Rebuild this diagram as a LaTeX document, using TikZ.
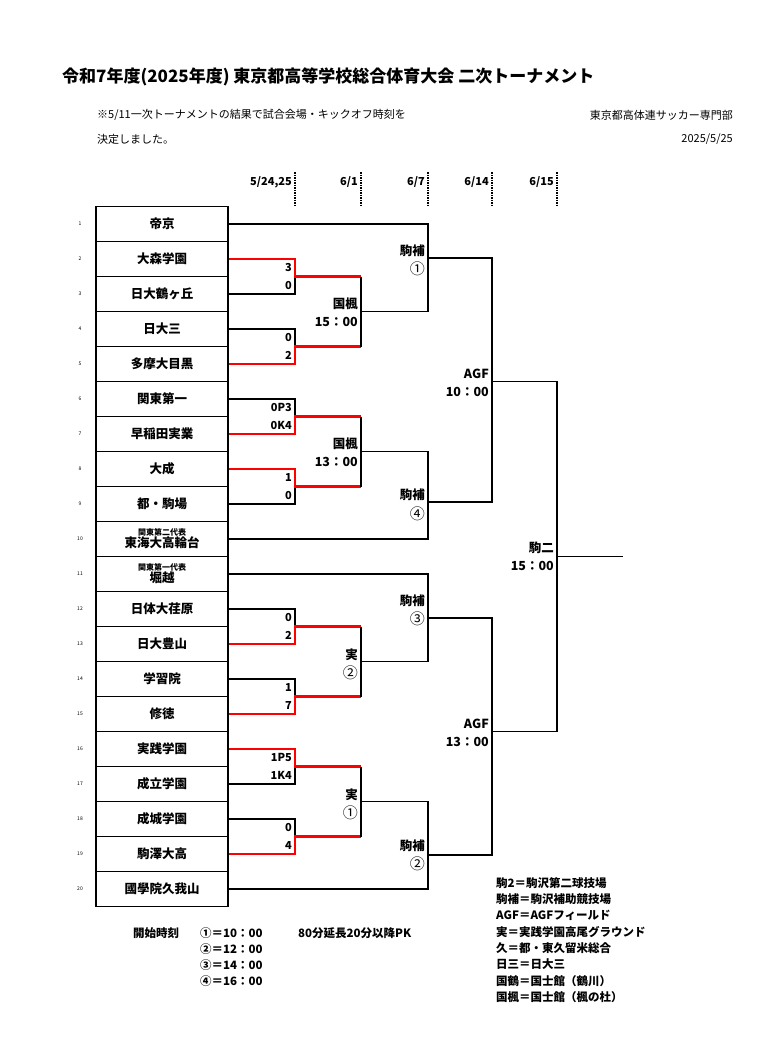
\documentclass[tikz,border=0pt]{standalone}
\usepackage{fontspec}
\setmainfont{Noto Sans CJK JP}
\begin{document}
\begin{tikzpicture}[x=1pt,y=-1pt,font=\bfseries,
  box/.style={draw,line width=1.4pt,minimum width=132pt,minimum height=35pt,inner sep=0pt,font=\fontsize{12.5}{13}\bfseries\selectfont},
  br/.style={line width=1.3pt},
  win/.style={red,line width=2.4pt},
  sc/.style={anchor=east,font=\fontsize{11}{12}\bfseries\selectfont,inner sep=1pt},
  lb/.style={anchor=east,font=\fontsize{12.5}{13}\bfseries\selectfont,inner sep=1pt},
  tx/.style={anchor=west,font=\fontsize{11.5}{13}\bfseries\selectfont,inner sep=0pt},
  num/.style={font=\fontsize{5}{6}\selectfont,inner sep=0pt},
  dt/.style={anchor=east,font=\fontsize{11}{12}\bfseries\selectfont,inner sep=1pt},
  dl/.style={line width=1.5pt,dash pattern=on 1.5pt off 1pt}]
\useasboundingbox (0,0) rectangle (765,1061);
\node[anchor=west,font=\fontsize{17}{19}\bfseries\selectfont,inner sep=0pt] (title) at (62,77) {令和7年度(2025年度) 東京都高等学校総合体育大会 二次トーナメント};
\node[tx,font=\fontsize{11}{13}\selectfont] (n1) at (97,115) {※5/11一次トーナメントの結果で試合会場・キックオフ時刻を};
\node[tx,font=\fontsize{11}{13}\selectfont] (n2) at (97,139) {決定しました。};
\node[anchor=east,font=\fontsize{11}{13}\selectfont,inner sep=0pt] (org) at (733,115) {東京都高体連サッカー専門部};
\node[anchor=east,font=\fontsize{11}{13}\selectfont,inner sep=0pt] (dat) at (733,139) {2025/5/25};
% dates
\foreach \x/\t/\n in {295/{5/24,25}/d1,361/{6/1}/d2,428/{6/7}/d3,492/{6/14}/d4,557/{6/15}/d5}{
  \node[dt] (\n) at (\x-2,182) {\t};
  \draw[dl] (\x,172) -- (\x,206);
}
% boxes
\foreach \i/\name in {1/帝京,2/大森学園,3/日大鶴ヶ丘,4/日大三,5/多摩大目黒,6/関東第一,7/早稲田実業,8/大成,9/都・駒場,12/日体大荏原,13/日大豊山,14/学習院,15/修徳,16/実践学園,17/成立学園,18/成城学園,19/駒澤大高,20/國學院久我山}{
  \node[box] (r\i) at (162,{224+35*(\i-1)}) {\name};
}
\node[box,align=center] (r10) at (162,539) {\fontsize{8}{9}\selectfont 関東第二代表\\[-1pt]東海大高輪台};
\node[box,align=center] (r11) at (162,574) {\fontsize{8}{9}\selectfont 関東第一代表\\[-1pt]堀越};
\foreach \i in {1,...,20}{\node[num] (k\i) at (80,{224+35*(\i-1)}) {\i};}
% first round
\foreach \a/\b/\w/\sa/\sb/\m in {2/3/t/3/0/m1,4/5/b/0/2/m2,6/7/b/0P3/0K4/m3,8/9/t/1/0/m4,12/13/b/0/2/m5,14/15/b/1/7/m6,16/17/t/1P5/1K4/m7,18/19/b/0/4/m8}{
  \coordinate (\m) at (295,{224+35*(\a-1)+17.5});
  \node[sc] (\m a) at (293,{224+35*(\a-1)+8.5}) {\sa};
  \node[sc] (\m b) at (293,{224+35*(\a-1)+26.5}) {\sb};
  \if\w t
    \draw[br] (r\b.east) -| (\m);
    \draw[win] (r\a.east) -| (\m) -- ++(66,0);
  \else
    \draw[br] (r\a.east) -| (\m);
    \draw[win] (r\b.east) -| (\m) -- ++(66,0);
  \fi
}
% second round
\coordinate (q1) at (361,311.5); \coordinate (q2) at (361,451.5);
\coordinate (q3) at (361,661.5); \coordinate (q4) at (361,801.5);
\draw[br] (361,276.5) -- (361,346.5); \draw[br] (361,416.5) -- (361,486.5);
\draw[br] (361,626.5) -- (361,696.5); \draw[br] (361,766.5) -- (361,836.5);
\node[lb] (l1) at (359,304) {国楓}; \node[lb] (l1b) at (359,322) {15：00};
\node[lb] (l2) at (359,444) {国楓}; \node[lb] (l2b) at (359,462) {13：00};
\node[lb] (l3) at (359,655) {実}; \node[lb,font=\fontsize{15}{15}\selectfont] (l3b) at (359,673) {②};
\node[lb] (l4) at (359,795) {実}; \node[lb,font=\fontsize{15}{15}\selectfont] (l4b) at (359,813) {①};
% third round
\coordinate (p1) at (428,258); \coordinate (p2) at (428,502);
\coordinate (p3) at (428,618); \coordinate (p4) at (428,855);
\draw[br] (r1.east) -| (428,311.5) -- (q1);
\draw[br] (q2) -- (428,451.5) |- (r10.east);
\draw[br] (r11.east) -| (428,661.5) -- (q3);
\draw[br] (q4) -- (428,801.5) |- (r20.east);
\node[lb] (l5) at (426,251) {駒補}; \node[lb,font=\fontsize{15}{15}\selectfont] (l5b) at (426,269) {①};
\node[lb] (l6) at (426,495) {駒補}; \node[lb,font=\fontsize{15}{15}\selectfont] (l6b) at (426,514) {④};
\node[lb] (l7) at (426,601) {駒補}; \node[lb,font=\fontsize{15}{15}\selectfont] (l7b) at (426,619) {③};
\node[lb] (l8) at (426,846) {駒補}; \node[lb,font=\fontsize{15}{15}\selectfont] (l8b) at (426,864) {②};
% fourth round
\coordinate (s1) at (492,381.5); \coordinate (s2) at (492,731.5);
\draw[br] (p1) -| (s1) |- (p2);
\draw[br] (p3) -| (s2) |- (p4);
\node[lb] (l9) at (490,374) {AGF}; \node[lb] (l9b) at (490,392) {10：00};
\node[lb] (l10) at (490,724) {AGF}; \node[lb] (l10b) at (490,742) {13：00};
% final
\coordinate (fe) at (623,556.5);
\draw[br] (s1) -| (557,731.5) -- (s2);
\draw[br] (557,556.5) -- (fe);
\node[lb] (l11) at (555,548) {駒二}; \node[lb] (l11b) at (555,566) {15：00};
% notes
\node[tx] (st) at (133,933) {開始時刻};
\node[tx] (t1) at (200,933) {①＝10：00};
\node[tx] (t2) at (200,949) {②＝12：00};
\node[tx] (t3) at (200,965) {③＝14：00};
\node[tx] (t4) at (200,981) {④＝16：00};
\node[tx] (pk) at (298,933) {80分延長20分以降PK};
\foreach \t [count=\j] in {駒2＝駒沢第二球技場,駒補＝駒沢補助競技場,AGF＝AGFフィールド,実＝実践学園高尾グラウンド,久＝都・東久留米総合,日三＝日大三,国鶴＝国士館（鶴川）,国楓＝国士館（楓の杜）}{
  \node[tx] (g\j) at (496,{883+16.3*(\j-1)}) {\t};
}
\end{tikzpicture}
\end{document}
